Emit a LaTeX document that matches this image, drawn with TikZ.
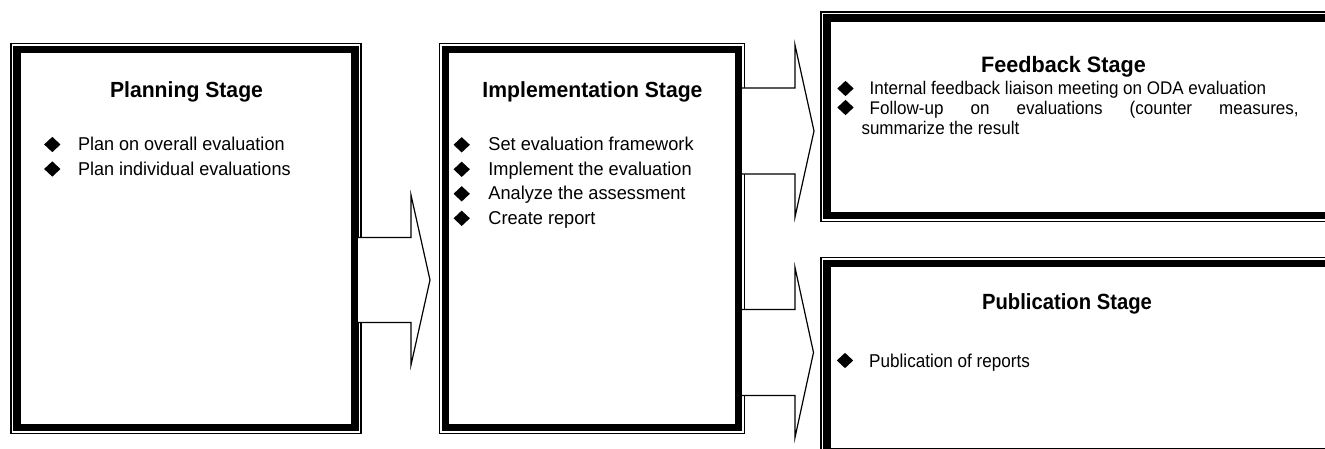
\documentclass[tikz,border=0pt]{standalone}
\usepackage{fontspec}
\usepackage{graphicx}
\setmainfont{Liberation Sans}
\usetikzlibrary{shapes.geometric}
\newcommand\myfs[1]{\fontsize{#1bp}{#1bp}\selectfont}
% condensed text: horizontal scale, font size, text
\newcommand\cond[3]{\scalebox{#1}[1]{\myfs{#2}#3}}
\newcommand\blockarrow[6]{%
  \fill[white] (#1,#4-#5) -- (#2,#4-#5) -- (#2,#4-#6) -- (#3,#4) -- (#2,#4+#6) -- (#2,#4+#5) -- (#1,#4+#5) -- cycle;
  \draw[blkline] (#1,#4-#5) -- (#2,#4-#5) -- (#2,#4-#6) -- (#3,#4) -- (#2,#4+#6) -- (#2,#4+#5) -- (#1,#4+#5);}
\begin{document}
\begin{tikzpicture}[x=1bp,y=-1bp,
  stage/.style={draw=black, line width=1.4bp, inner sep=0pt, fill=white},
  thickframe/.style={draw=black, line width=7.5bp},
  ttl/.style={anchor=base, inner sep=0pt, font=\bfseries},
  txt/.style={anchor=base west, inner sep=0pt},
  bul/.style={diamond, fill=black, inner sep=0pt, minimum width=16.5bp, minimum height=15.5bp},
  blkline/.style={draw=black, line width=1.2bp, line join=miter},
]
\useasboundingbox (0,0) rectangle (1325,449);
\clip (0,0) rectangle (1325,449);

% stage boxes
\node[stage, minimum width=350bp, minimum height=390bp] (plan) at (186,238.5) {};
\node[stage, minimum width=305bp, minimum height=390bp] (impl) at (592,238.5) {};
\node[stage, minimum width=514bp, minimum height=209.5bp] (feed) at (1078,116.75) {};
\node[stage, minimum width=514bp, minimum height=200.2bp] (pub) at (1078,357.6) {};
\foreach \b in {plan,impl,feed,pub}{
  \draw[thickframe] ([shift={(6.75,6.75)}]\b.north west) rectangle ([shift={(-6.75,-6.75)}]\b.south east);
}

% block arrows
\blockarrow{358}{411}{430}{280}{42.5}{85}
\blockarrow{742}{795}{814}{131}{43}{86}
\blockarrow{742}{795}{813.5}{352.5}{43}{85}

% Planning stage
\node[ttl] (plant) at (186.5,97.3) {\cond{0.967}{21.9}{Planning Stage}};
\node[bul] (pb1) at (52.3,144.5) {};
\node[txt] (pl1) at (77.8,150.8) {\cond{0.97}{18.6}{Plan on overall evaluation}};
\node[bul] (pb2) at (52.3,169) {};
\node[txt] (pl2) at (77.8,175.2) {\cond{0.97}{18.6}{Plan individual evaluations}};

% Implementation stage
\node[ttl] (implt) at (592.5,97.3) {\cond{0.967}{21.9}{Implementation Stage}};
\node[bul] (ib1) at (461.7,144.8) {};
\node[txt] (il1) at (488.2,151) {\cond{0.978}{18.6}{Set evaluation framework}};
\node[bul] (ib2) at (461.7,169.3) {};
\node[txt] (il2) at (488.2,175.5) {\cond{0.978}{18.6}{Implement the evaluation}};
\node[bul] (ib3) at (461.7,193.8) {};
\node[txt] (il3) at (488.2,200) {\cond{0.978}{18.6}{Analyze the assessment}};
\node[bul] (ib4) at (461.7,218.3) {};
\node[txt] (il4) at (488.2,224.5) {\cond{0.978}{18.6}{Create report}};

% Feedback stage
\node[ttl] (feedt) at (1063.5,72.7) {\cond{0.97}{22.3}{Feedback Stage}};
\node[bul] (fb1) at (845.5,88.5) {};
\node[txt] (fl1) at (869.5,95) {\cond{0.93}{18.3}{Internal feedback liaison meeting on ODA evaluation}};
\node[bul] (fb2) at (845.5,107.5) {};
\node[txt] (fl2) at (869.5,114.5) {\cond{0.93}{18.3}{\makebox[461.3bp][s]{Follow-up on evaluations (counter measures,}}};
\node[txt] (fl3) at (861.3,135) {\cond{0.93}{18.3}{summarize the result}};

% Publication stage
\node[ttl] (pubt) at (1067,310) {\cond{0.92}{22}{Publication Stage}};
\node[bul] (ub1) at (845,360.5) {};
\node[txt] (ul1) at (869,367.3) {\cond{0.92}{18.6}{Publication of reports}};
\end{tikzpicture}
\end{document}
